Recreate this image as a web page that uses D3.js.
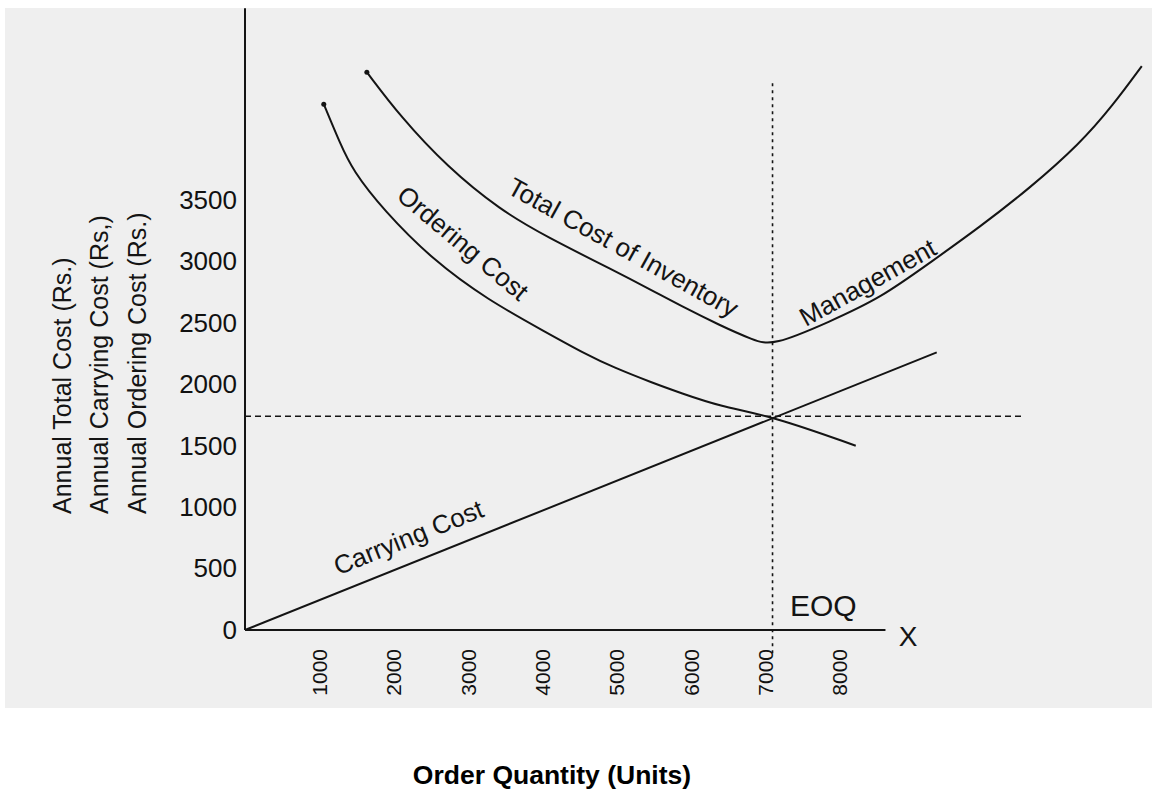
<!DOCTYPE html>
<html>
<head>
<meta charset="utf-8">
<script src="https://cdn.jsdelivr.net/npm/d3@7"></script>
<style>
  body { margin: 0; background: #fff; }
  svg { display: block; font-family: "Liberation Sans", Arial, sans-serif; }
  .axis text { fill: #111; }
</style>
</head>
<body>
<svg id="eoq-chart" width="1152" height="791"></svg>
<script>
// tick labels
var xTicks = [1000, 2000, 3000, 4000, 5000, 6000, 7000, 8000];
var yTicks = [0, 500, 1000, 1500, 2000, 2500, 3000, 3500];

// ordering cost curve
var orderingQty  = [1060, 1280, 1450, 1860, 2530, 3260, 4060, 4600, 4950, 5490, 5860, 6390, 7100, 8220];
var orderingCost = [4280, 3960, 3740, 3420, 3010, 2690, 2420, 2240, 2140, 2010, 1930, 1820, 1740, 1500];

// total cost of inventory management
var totalQty  = [1640, 2090, 2720, 3430, 4060, 4950, 5490, 5860, 6390, 6840, 7100, 7870, 8550, 9220, 9890, 10570, 11240, 11680, 12070];
var totalCost = [4540, 4180, 3770, 3420, 3200, 2930, 2760, 2640, 2480, 2360, 2310, 2510, 2700, 2990, 3280, 3600, 3960, 4270, 4590];

// carrying cost is a straight line
var carryingQty  = [0, 9310];
var carryingCost = [0, 2260];

var eoqQty = 7100, eoqCost = 1740;

var yTitles = ["Annual Total Cost (Rs.)", "Annual Carrying Cost (Rs,)", "Annual Ordering Cost (Rs.)"];

var curveLabels = [
  { text: "Total Cost of Inventory", q: 5090, c: 3115, angle: 29 },
  { text: "Ordering Cost", q: 2934, c: 3150, angle: 40 },
  { text: "Management", q: 8380, c: 2830, angle: -29 },
  { text: "Carrying Cost", q: 2200, c: 755, angle: -22 }
];

var svg = d3.select("svg#eoq-chart");

// scanned page background
svg.append("rect")
  .attr("x", 5).attr("y", 8)
  .attr("width", 1147).attr("height", 700)
  .attr("fill", "#efefef");

var x = d3.scaleLinear()
  .domain([0, 12000])
  .range([245, 245 + 0.0743 * 12000]);

var y = d3.scaleLinear()
  .domain([0, 5000])
  .range([630, 630 - 0.12286 * 5000]);

var ink = "#141414";

// axes lines
svg.append("line")
  .attr("x1", x(0)).attr("x2", x(0))
  .attr("y1", y(0)).attr("y2", y(5060))
  .attr("stroke", ink).attr("stroke-width", 2);

svg.append("line")
  .attr("x1", x(0)).attr("x2", x(8620))
  .attr("y1", y(0)).attr("y2", y(0))
  .attr("stroke", ink).attr("stroke-width", 2);

var yAxis = d3.axisLeft(y).tickValues(yTicks).tickSize(0).tickPadding(8).tickFormat(d3.format("d"));
var yg = svg.append("g")
  .attr("class", "axis axis--y")
  .attr("transform", "translate(" + x(0) + ",0)")
  .call(yAxis);
yg.select(".domain").remove();
yg.selectAll("text").style("font-size", "26px");

var xAxis = d3.axisBottom(x).tickValues(xTicks).tickSize(0).tickFormat(d3.format("d"));
var xg = svg.append("g")
  .attr("class", "axis axis--x")
  .attr("transform", "translate(0," + y(0) + ")")
  .call(xAxis);
xg.select(".domain").remove();
xg.selectAll("text")
  .style("font-size", "21px")
  .attr("transform", "rotate(-90)")
  .attr("text-anchor", "end")
  .attr("x", -19)
  .attr("y", 0)
  .attr("dy", "0.35em");

// reference lines at the EOQ
svg.append("line")
  .attr("x1", x(0)).attr("x2", x(10450))
  .attr("y1", y(eoqCost)).attr("y2", y(eoqCost))
  .attr("stroke", ink).attr("stroke-width", 1.6)
  .attr("stroke-dasharray", "6,4");

svg.append("line")
  .attr("x1", x(eoqQty)).attr("x2", x(eoqQty))
  .attr("y1", y(4450)).attr("y2", y(-200))
  .attr("stroke", ink).attr("stroke-width", 1.6)
  .attr("stroke-dasharray", "3,4");

var line = d3.line()
  .x(function (d) { return x(d[0]); })
  .y(function (d) { return y(d[1]); })
  .curve(d3.curveBasis);

var curves = [
  d3.zip(orderingQty, orderingCost),
  d3.zip(totalQty, totalCost),
  d3.zip(carryingQty, carryingCost)
];

svg.selectAll("path.cost")
  .data(curves)
  .enter().append("path")
  .attr("class", "cost")
  .attr("d", line)
  .attr("fill", "none")
  .attr("stroke", ink)
  .attr("stroke-width", 2);

// pen dots where the curves start
svg.selectAll("circle.pen")
  .data([curves[0][0], curves[1][0]])
  .enter().append("circle")
  .attr("class", "pen")
  .attr("cx", function (d) { return x(d[0]); })
  .attr("cy", function (d) { return y(d[1]); })
  .attr("r", 2.5)
  .attr("fill", ink);

svg.selectAll("text.curve-label")
  .data(curveLabels)
  .enter().append("text")
  .attr("class", "curve-label")
  .attr("transform", function (d) { return "translate(" + x(d.q) + "," + y(d.c) + ") rotate(" + d.angle + ")"; })
  .attr("text-anchor", "middle")
  .attr("dy", "0.35em")
  .style("font-size", "26px")
  .attr("fill", ink)
  .text(function (d) { return d.text; });

svg.append("text")
  .attr("x", x(7335)).attr("y", y(203))
  .attr("dy", "0.35em")
  .style("font-size", "30px")
  .attr("fill", ink)
  .text("EOQ");

svg.append("text")
  .attr("x", x(8923)).attr("y", y(-49))
  .attr("text-anchor", "middle")
  .attr("dy", "0.35em")
  .style("font-size", "28px")
  .attr("fill", ink)
  .text("X");

// stacked y axis titles
svg.selectAll("text.ytitle")
  .data(yTitles)
  .enter().append("text")
  .attr("class", "ytitle")
  .attr("transform", function (d, i) { return "translate(" + (62 + i * 37.5) + ",514) rotate(-90)"; })
  .attr("dy", "0.35em")
  .style("font-size", "25px")
  .attr("fill", ink)
  .text(function (d) { return d; });

svg.append("text")
  .attr("x", 552).attr("y", 775)
  .attr("text-anchor", "middle")
  .attr("dy", "0.35em")
  .style("font-size", "26.5px")
  .style("font-weight", "bold")
  .attr("fill", "#000")
  .text("Order Quantity (Units)");
</script>
</body>
</html>
